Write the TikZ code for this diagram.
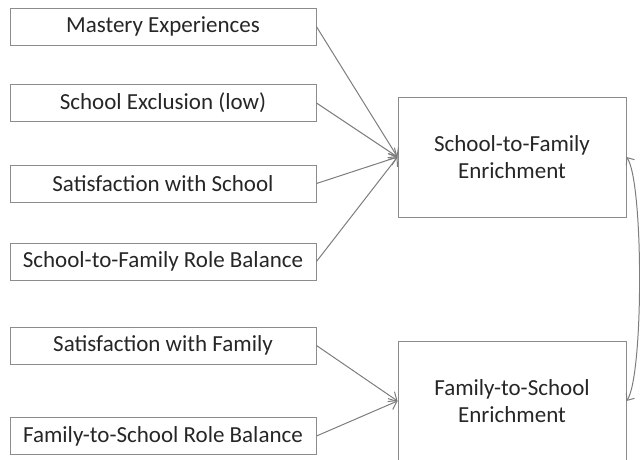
\documentclass[tikz,border=0pt]{standalone}
\usepackage{fontspec}
\setmainfont{Carlito}
\usetikzlibrary{arrows.meta}
\definecolor{boxgray}{RGB}{140,140,140}
\definecolor{linegray}{RGB}{125,125,125}
\definecolor{textgray}{RGB}{38,38,38}
\tikzset{
	lbox/.style={rectangle, minimum width=306pt, minimum height=37pt, inner sep=0pt, text centered, draw=boxgray, line width=1pt, text=textgray, font=\fontsize{23}{27}\selectfont},
	ebox/.style={rectangle, minimum width=228pt, minimum height=120pt, inner sep=0pt, align=center, draw=boxgray, line width=1pt, text=textgray, font=\fontsize{23}{26.7}\selectfont},
	arrow/.style={draw=linegray, line width=1pt, -{Straight Barb[length=7pt,width=12pt]}},
	darrow/.style={draw=linegray, line width=1pt, {Straight Barb[length=6pt,width=10pt]}-{Straight Barb[length=6pt,width=10pt]}},
}

\begin{document}
\begin{tikzpicture}[x=1pt,y=-1pt]
\useasboundingbox (0,0) rectangle (640,460);

% school side
\node [lbox] (mastery) at (163,26.7) {Mastery Experiences};
\node [lbox] (exclusion) at (163,103) {School Exclusion (low)};
\node [lbox] (satschool) at (163,183.5) {Satisfaction with School};
\node [lbox] (sfbalance) at (163,261.5) {School-to-Family Role Balance};

% family side
\node [lbox] (satfamily) at (163,345.5) {Satisfaction with Family};
\node [lbox] (fsbalance) at (163,436) {Family-to-School Role Balance};

\node [ebox] (sfenrich) at (512,157) {School-to-Family\\Enrichment};
\node [ebox] (fsenrich) at (512,401) {Family-to-School\\Enrichment};

\draw [arrow] (mastery.east) -- (sfenrich.west);
\draw [arrow] (exclusion.east) -- (sfenrich.west);
\draw [arrow] (satschool.east) -- (sfenrich.west);
\draw [arrow] (sfbalance.east) -- (sfenrich.west);

\draw [arrow] (satfamily.east) -- (fsenrich.west);
\draw [arrow] (fsbalance.east) -- (fsenrich.west);

% link between the two enrichments
\draw [darrow] (sfenrich.east) to[out=-55,in=55,distance=30pt] (fsenrich.east);
\end{tikzpicture}
\end{document}
